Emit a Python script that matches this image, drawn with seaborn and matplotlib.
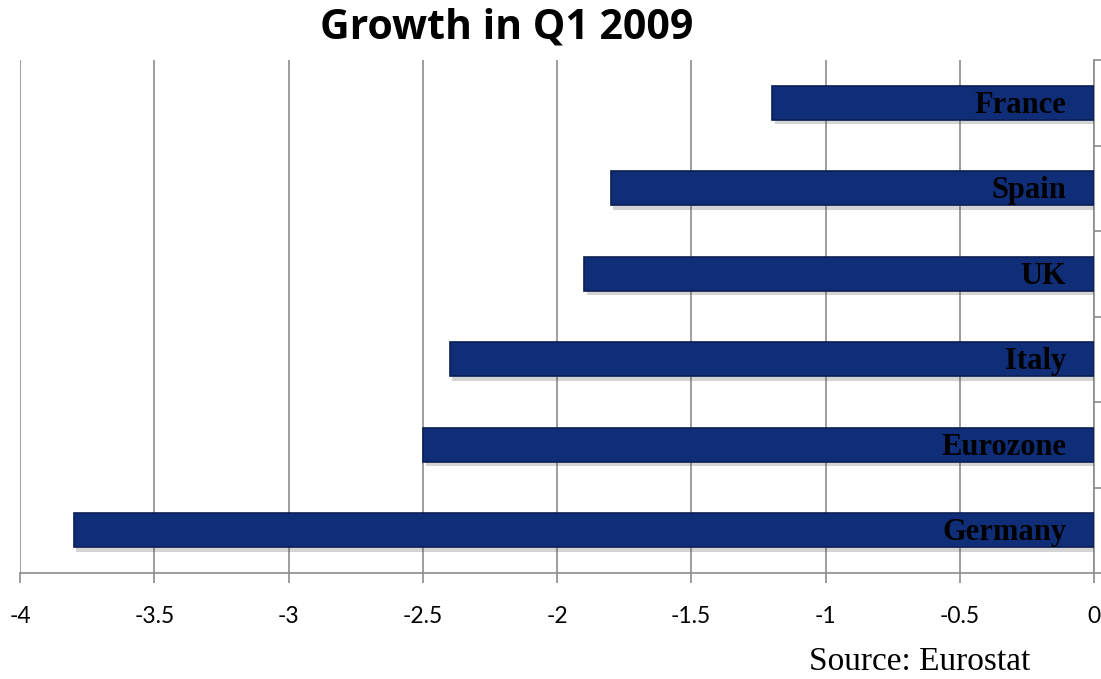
import matplotlib
matplotlib.use("Agg")
import matplotlib.pyplot as plt
import matplotlib.patheffects as pe
import seaborn as sns
import pandas as pd

countries = ["France", "Spain", "UK", "Italy", "Eurozone", "Germany"]
growth = [-1.2, -1.8, -1.9, -2.4, -2.5, -3.8]
xticks = [-4, -3.5, -3, -2.5, -2, -1.5, -1, -0.5, 0]
xtick_labels = ["-4", "-3.5", "-3", "-2.5", "-2", "-1.5", "-1", "-0.5", "0"]

df = pd.DataFrame({"country": countries, "growth": growth})

sns.set_theme(style="white")
plt.rcParams["font.family"] = ["Lato", "DejaVu Sans"]
plt.rcParams["text.color"] = "black"

fig = plt.figure(figsize=(11.01, 6.79), dpi=100)
ax = fig.add_axes([20/1101, 106/679, 1074/1101, 513/679])

sns.barplot(data=df, x="growth", y="country", orient="h", width=0.4,
            color="#102e78", saturation=1, edgecolor="#0a1f55", linewidth=1.2,
            ax=ax, zorder=3)

for p in ax.patches:
    p.set_path_effects([pe.SimplePatchShadow(offset=(2, -3), alpha=0.25,
                                             shadow_rgbFace="#555555"),
                        pe.Normal()])

ax.set_xlim(-4, 0)
ax.set_ylim(5.5, -0.5)
ax.set_xticks(xticks)
ax.set_xticklabels(xtick_labels, fontsize=16.5, color="black")
ax.set_xlabel("")
ax.set_ylabel("")
ax.set_yticks([])
ax.grid(axis="x", color="#8c8c8c", linewidth=1.2, zorder=0)
ax.grid(axis="y", visible=False)

for s in ["top", "left"]:
    ax.spines[s].set_visible(False)
for s in ["bottom", "right"]:
    ax.spines[s].set_color("#8c8c8c")
    ax.spines[s].set_linewidth(1.2)

ax.tick_params(axis="x", direction="out", length=7, width=1.2, color="#8c8c8c",
               bottom=True, pad=17, labelcolor="black")
ax.yaxis.set_ticks_position("right")
ax.set_yticks([i - 0.5 for i in range(len(countries) + 1)], minor=True)
ax.tick_params(axis="y", which="minor", direction="out", length=6, width=1.2,
               color="#8c8c8c", right=True, left=False)

for i, name in enumerate(countries):
    ax.text(-0.103, i + 0.03, name, ha="right", va="center", fontsize=22,
            fontweight="bold", family=["Liberation Serif", "DejaVu Serif"],
            color="black", zorder=5)

fig.text(507/1101, 1 - 28/679, "Growth in Q1 2009", ha="center", va="center",
         fontsize=29.5, fontweight="bold", color="black",
         family=["Open Sans", "DejaVu Sans"])
fig.text(1030/1101, 1 - 662/679, "Source: Eurostat", ha="right", va="center",
         fontsize=24, color="black", family=["Liberation Serif", "DejaVu Serif"])

fig.savefig("out.png", dpi=100)
